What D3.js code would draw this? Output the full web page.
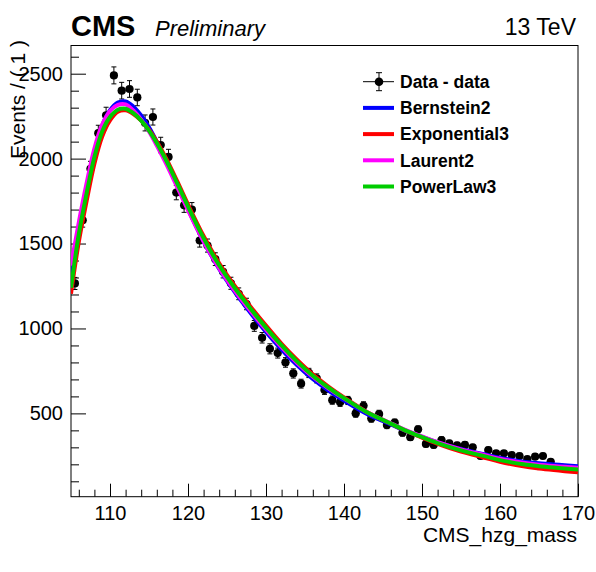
<!DOCTYPE html>
<html>
<head>
<meta charset="utf-8">
<script src="https://cdn.jsdelivr.net/npm/d3@7/dist/d3.min.js"></script>
<style>
  html, body { margin: 0; padding: 0; background: #fff; }
  svg { display: block; }
  text { font-family: "Liberation Sans", Arial, Helvetica, sans-serif; }
</style>
</head>
<body>
<svg id="chart" width="596" height="572"></svg>
<script>
// ---- Data ----
const binCenters = [105.5,106.5,107.5,108.5,109.5,110.5,111.5,112.5,113.5,114.5,115.5,116.5,117.5,118.5,119.5,120.5,121.5,122.5,123.5,124.5,125.5,126.5,127.5,128.5,129.5,130.5,131.5,132.5,133.5,134.5,135.5,136.5,137.5,138.5,139.5,140.5,141.5,142.5,143.5,144.5,145.5,146.5,147.5,148.5,149.5,150.5,151.5,152.5,153.5,154.5,155.5,156.5,157.5,158.5,159.5,160.5,161.5,162.5,163.5,164.5,165.5,166.5,167.5,168.5,169.5];
const dataCounts = [1265,1637,1940,2150,2255,2490,2400,2410,2360,2210,2245,2080,2010,1800,1725,1700,1518,1488,1408,1334,1266,1204,1144,1015,945,880,855,800,735,675,738,706,637,578,565,576,500,545,470,496,431,445,386,360,406,320,314,343,323,312,314,300,249,284,265,265,255,249,231,245,249,215,181,177,171];

const curveX = [105,106,107,108,109,110,111,112,113,114,115,116,117,118,119,120,122,124,126,128,130,132,134,136,138,140,143,146,148,150,152,155,158,160,163,165,170];
const bernstein2 = [1270,1585,1825,2040,2195,2285,2330,2336,2306,2254,2185,2100,2008,1907,1805,1703,1512,1350,1214,1093,980,876,783,702,634,575,495,435,395,362,329,290,259,238,216,206,189];
const exponential3 = [1205,1510,1750,1970,2130,2225,2276,2284,2263,2224,2170,2100,2018,1927,1829,1730,1544,1384,1250,1130,1017,910,815,730,658,594,507,440,396,357,321,275,239,215,188,176,153];
const laurent2 = [1370,1625,1855,2060,2200,2280,2316,2319,2283,2229,2160,2077,1988,1893,1795,1696,1512,1354,1222,1104,993,890,797,716,648,588,505,442,400,364,330,288,255,233,209,198,180];
const powerLaw3 = [1240,1555,1795,2010,2160,2245,2288,2294,2268,2224,2165,2092,2008,1915,1817,1718,1532,1372,1238,1118,1005,900,805,722,652,590,505,440,397,360,325,282,248,225,200,189,169];

const seriesNames = ["Bernstein2","Exponential3","Laurent2","PowerLaw3"];
const seriesColors = ["#0000ff","#ff0000","#ff00ff","#00cc00"];
const seriesValues = [bernstein2, exponential3, laurent2, powerLaw3];

const xMajorTicks = [110,120,130,140,150,160,170];
const yMajorTicks = [500,1000,1500,2000,2500];

// ---- Layout ----
const svg = d3.select("#chart");
const L = 71, R = 578, T = 45.5, B = 496.7;
const x = d3.scaleLinear().domain([105,170]).range([L,R]);
const y = d3.scaleLinear().domain([9.4,2666]).range([B,T]);

svg.append("defs").append("clipPath").attr("id","clip")
  .append("rect").attr("x",L).attr("y",T).attr("width",R-L).attr("height",B-T);

// minor ticks
const xMinor = d3.range(106,171,2).filter(v => v % 10 !== 0);
const yMinor = d3.range(100,2667,100).filter(v => v % 500 !== 0);

const gx = svg.append("g").attr("transform",`translate(0,${B})`);
gx.call(d3.axisBottom(x).tickValues(xMajorTicks).tickSize(-13).tickPadding(9).tickFormat(d3.format("d")));
const gxm = svg.append("g").attr("transform",`translate(0,${B})`);
gxm.call(d3.axisBottom(x).tickValues(xMinor).tickSize(-7).tickFormat(""));
const gy = svg.append("g").attr("transform",`translate(${L},0)`);
gy.call(d3.axisLeft(y).tickValues(yMajorTicks).tickSize(-15).tickPadding(8).tickFormat(d3.format("d")));
const gym = svg.append("g").attr("transform",`translate(${L},0)`);
gym.call(d3.axisLeft(y).tickValues(yMinor).tickSize(-8).tickFormat(""));

[gx,gxm,gy,gym].forEach(g => {
  g.select(".domain").remove();
  g.selectAll(".tick line").attr("stroke","#000").attr("stroke-width",1);
  g.selectAll("text").attr("font-size","20px").attr("fill","#000")
    .style("font-family","'Liberation Sans', Arial, sans-serif");
});

// frame
svg.append("rect").attr("x",L).attr("y",T).attr("width",R-L).attr("height",B-T)
  .attr("fill","none").attr("stroke","#000").attr("stroke-width",1);

// data points
const plot = svg.append("g").attr("clip-path","url(#clip)");
const pts = plot.append("g");
binCenters.forEach((c,i) => {
  const v = dataCounts[i], e = Math.sqrt(v);
  const cx = x(c), cy = y(v);
  pts.append("line").attr("x1",cx).attr("x2",cx).attr("y1",y(v-e)).attr("y2",y(v+e)).attr("stroke","#000").attr("stroke-width",1);
  pts.append("line").attr("x1",cx-2.5).attr("x2",cx+2.5).attr("y1",y(v-e)).attr("y2",y(v-e)).attr("stroke","#000");
  pts.append("line").attr("x1",cx-2.5).attr("x2",cx+2.5).attr("y1",y(v+e)).attr("y2",y(v+e)).attr("stroke","#000");
  pts.append("line").attr("x1",x(c-0.5)).attr("x2",x(c+0.5)).attr("y1",cy).attr("y2",cy).attr("stroke","#000");
  pts.append("circle").attr("cx",cx).attr("cy",cy).attr("r",4.1).attr("fill","#000");
});

// curves
const line = d3.line().x(d => x(d[0])).y(d => y(d[1])).curve(d3.curveCatmullRom.alpha(0.5));
seriesValues.forEach((vals,k) => {
  plot.append("path").datum(curveX.map((cx,i) => [cx, vals[i]]))
    .attr("d", line).attr("fill","none").attr("stroke",seriesColors[k]).attr("stroke-width",4);
});

// legend
const lgX = 379, lgText = 400, lgY0 = 81.7, lgDy = 26.2;
const lg = svg.append("g");
lg.append("line").attr("x1",363).attr("x2",394).attr("y1",lgY0).attr("y2",lgY0).attr("stroke","#000");
lg.append("line").attr("x1",lgX).attr("x2",lgX).attr("y1",lgY0-9).attr("y2",lgY0+9).attr("stroke","#000");
lg.append("line").attr("x1",lgX-3).attr("x2",lgX+3).attr("y1",lgY0-9).attr("y2",lgY0-9).attr("stroke","#000");
lg.append("line").attr("x1",lgX-3).attr("x2",lgX+3).attr("y1",lgY0+9).attr("y2",lgY0+9).attr("stroke","#000");
lg.append("circle").attr("cx",lgX).attr("cy",lgY0).attr("r",4.3).attr("fill","#000");
lg.append("text").attr("x",lgText).attr("y",lgY0).attr("dy","0.36em").attr("font-size","17.5px").attr("font-weight","bold").text("Data - data");
seriesNames.forEach((n,k) => {
  const yy = lgY0 + lgDy*(k+1);
  lg.append("line").attr("x1",363).attr("x2",394).attr("y1",yy).attr("y2",yy).attr("stroke",seriesColors[k]).attr("stroke-width",4);
  lg.append("text").attr("x",lgText).attr("y",yy).attr("dy","0.36em").attr("font-size","17.5px").attr("font-weight","bold").text(n);
});

// header texts
svg.append("text").attr("x",71).attr("y",35.7).attr("font-size","29px").attr("font-weight","bold").text("CMS");
svg.append("text").attr("x",155).attr("y",35.7).attr("font-size","22px").attr("font-style","italic").text("Preliminary");
svg.append("text").attr("x",576).attr("y",35).attr("font-size","23px").attr("text-anchor","end").text("13 TeV");

// axis titles
svg.append("text").attr("x",577).attr("y",542).attr("font-size","21px").attr("text-anchor","end").text("CMS_hzg_mass");
svg.append("text").attr("transform","translate(25,40) rotate(-90)").attr("font-size","21px").attr("text-anchor","end").text("Events / ( 1 )");
</script>
</body>
</html>
